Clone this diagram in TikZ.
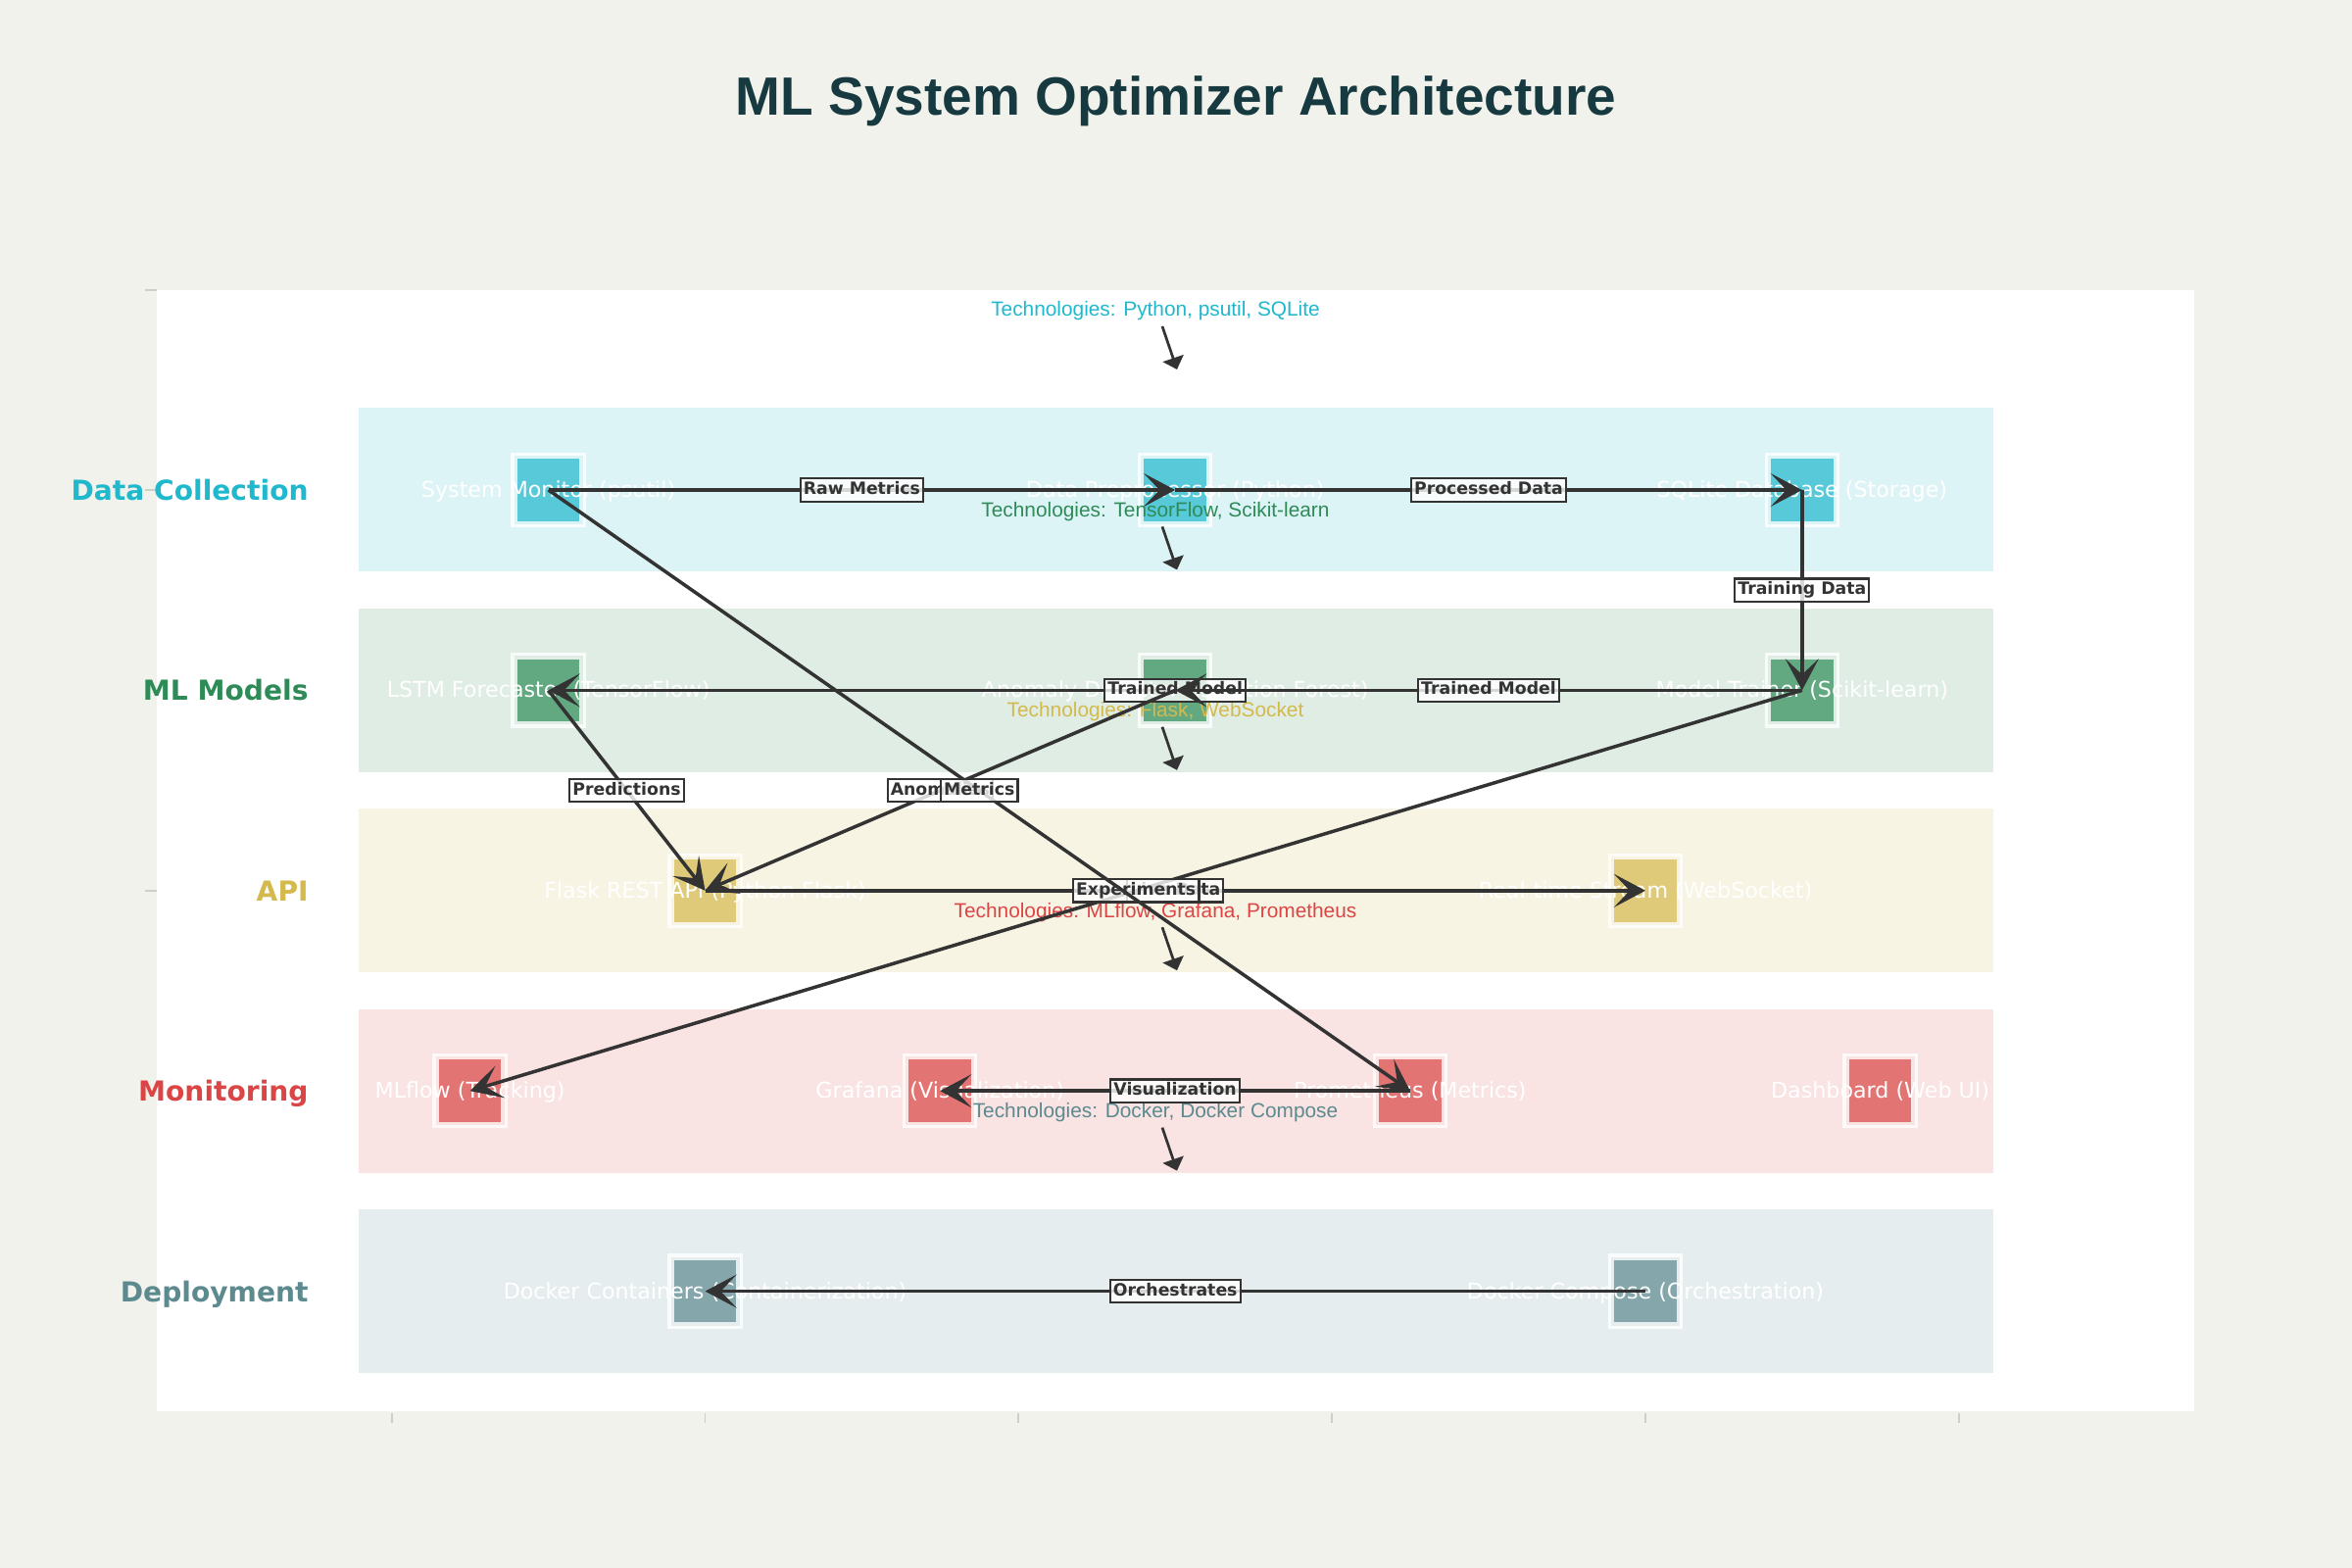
\documentclass[tikz,border=0pt]{standalone}
\usepackage{fontspec}
\setmainfont{DejaVu Sans}
\newfontfamily\arialf{Liberation Sans}
\usetikzlibrary{arrows.meta}
\definecolor{bg}{HTML}{F2F2EC}
\definecolor{cdata}{HTML}{1FB8CD}
\definecolor{cml}{HTML}{2E8B57}
\definecolor{capi}{HTML}{D4B94C}
\definecolor{cmon}{HTML}{DB4545}
\definecolor{cdep}{HTML}{5C8A8F}
\definecolor{ink}{HTML}{333333}
\definecolor{titlec}{HTML}{173A40}
\definecolor{tickc}{HTML}{CFCFC9}
\tikzset{
  band/.style={fill=#1, fill opacity=0.15, draw=none},
  comp/.style={rectangle, draw=white, draw opacity=0.8, line width=3.1pt, fill=#1, fill opacity=0.7, minimum size=33.6pt, inner sep=0pt},
  ctext/.style={text=white, font=\fontsize{10.65}{12}\selectfont, anchor=base, yshift=-3.6pt, inner sep=0pt},
  rowlbl/.style={text=#1, font=\bfseries\fontsize{13.5}{16}\selectfont, anchor=base east, inner sep=0pt},
  tech/.style={text=#1, font=\arialf\fontsize{10}{12}\selectfont, anchor=base, inner sep=0pt},
  techarrow/.style={draw=ink, line width=1.3pt, -{Triangle[length=5.8pt, width=10.6pt]}},
  edge/.style={draw=ink, line width=1.68pt, -{Stealth[length=15.4pt, width=16.3pt, inset=7.7pt]}},
  lbl/.style={font=\bfseries\fontsize{8.3}{10}\selectfont, text=ink, fill=white, fill opacity=0.8, text opacity=1, draw=ink, draw opacity=1, line width=1.05pt, inner xsep=1.5pt, inner ysep=1.6pt, text height=6.2pt, text depth=1.9pt},
  tick/.style={draw=tickc, line width=0.7pt}
}
\begin{document}
\begin{tikzpicture}[x=0.48pt,y=-0.48pt]
\useasboundingbox (0,0) rectangle (2400,1600);
\fill[bg] (0,0) rectangle (2400,1600);
\fill[white] (160,296) rectangle (2239,1440);
% axis ticks
\foreach \tx in {400,719.5,1039,1359,1679,1999} {\draw[tick] (\tx,1442) -- (\tx,1452);}
\foreach \ty in {296,500,908.8} {\draw[tick] (148,\ty) -- (160,\ty);}
% title
\node[font=\arialf\bfseries\fontsize{26.4}{30}\selectfont, text=titlec, anchor=base, inner sep=0pt] (title) at (1200,118) {ML System Optimizer Architecture};
% bands
\fill[band=cdata] (366,416.5) rectangle (2034,583.5);
\fill[band=cml]   (366,620.9) rectangle (2034,787.9);
\fill[band=capi]  (366,825.3) rectangle (2034,992.3);
\fill[band=cmon]  (366,1029.7) rectangle (2034,1196.7);
\fill[band=cdep]  (366,1234.1) rectangle (2034,1401.1);
% row labels
\node[rowlbl=cdata] (r1) at (315,510.5) {Data Collection};
\node[rowlbl=cml]   (r2) at (315,714.9) {ML Models};
\node[rowlbl=capi]  (r3) at (315,919.3) {API};
\node[rowlbl=cmon]  (r4) at (315,1123.7) {Monitoring};
\node[rowlbl=cdep]  (r5) at (315,1328.1) {Deployment};
% components
\node[comp=cdata] (sm) at (559.6,500) {};
\node[comp=cdata] (pp) at (1199.2,500) {};
\node[comp=cdata] (db) at (1838.8,500) {};
\node[comp=cml] (lstm) at (559.6,704.4) {};
\node[comp=cml] (ad) at (1199.2,704.4) {};
\node[comp=cml] (mt) at (1838.8,704.4) {};
\node[comp=capi] (fl) at (719.5,908.8) {};
\node[comp=capi] (rt) at (1679,908.8) {};
\node[comp=cmon] (mf) at (479.6,1113.2) {};
\node[comp=cmon] (gf) at (959.2,1113.2) {};
\node[comp=cmon] (pr) at (1438.9,1113.2) {};
\node[comp=cmon] (dsh) at (1918.6,1113.2) {};
\node[comp=cdep] (dc) at (719.5,1317.6) {};
\node[comp=cdep] (dk) at (1679,1317.6) {};
\node[ctext] (smt) at (sm) {System Monitor (psutil)};
\node[ctext] (ppt) at (pp) {Data Preprocessor (Python)};
\node[ctext] (dbt) at (db) {SQLite Database (Storage)};
\node[ctext] (lstmt) at (lstm) {LSTM Forecaster (TensorFlow)};
\node[ctext] (adt) at (ad) {Anomaly Detector (Isolation Forest)};
\node[ctext] (mtt) at (mt) {Model Trainer (Scikit-learn)};
\node[ctext] (flt) at (fl) {Flask REST API (Python Flask)};
\node[ctext] (rtt) at (rt) {Real-time Stream (WebSocket)};
\node[ctext] (mft) at (mf) {MLflow (Tracking)};
\node[ctext] (gft) at (gf) {Grafana (Visualization)};
\node[ctext] (prt) at (pr) {Prometheus (Metrics)};
\node[ctext] (dsht) at (dsh) {Dashboard (Web UI)};
\node[ctext] (dct) at (dc) {Docker Containers (Containerization)};
\node[ctext] (dkt) at (dk) {Docker Compose (Orchestration)};
% technology notes
\node[tech=cdata] (t1) at (1179,323) {Technologies: Python, psutil, SQLite};
\node[tech=cml]   (t2) at (1179,527.4) {Technologies: TensorFlow, Scikit-learn};
\node[tech=capi]  (t3) at (1179,731.8) {Technologies: Flask, WebSocket};
\node[tech=cmon]  (t4) at (1179,936.2) {Technologies: MLflow, Grafana, Prometheus};
\node[tech=cdep]  (t5) at (1179,1140.6) {Technologies: Docker, Docker Compose};
\coordinate (a1s) at (1186,333);    \coordinate (a1e) at (1201,377);
\coordinate (a2s) at (1186,537.4);  \coordinate (a2e) at (1201,581.4);
\coordinate (a3s) at (1186,741.8);  \coordinate (a3e) at (1201,785.8);
\coordinate (a4s) at (1186,946.2);  \coordinate (a4e) at (1201,990.2);
\coordinate (a5s) at (1186,1150.6); \coordinate (a5e) at (1201,1194.6);
\draw[techarrow] (a1s) -- (a1e);
\draw[techarrow] (a2s) -- (a2e);
\draw[techarrow] (a3s) -- (a3e);
\draw[techarrow] (a4s) -- (a4e);
\draw[techarrow] (a5s) -- (a5e);
% connections
\draw[edge] (sm.center) -- node[lbl] (e1) {Raw Metrics} (pp.center);
\draw[edge] (pp.center) -- node[lbl] (e2) {Processed Data} (db.center);
\draw[edge] (db.center) -- node[lbl] (e3) {Training Data} (mt.center);
\draw[edge] (mt.center) -- node[lbl] (e4) {Trained Model} (lstm.center);
\draw[edge] (mt.center) -- node[lbl] (e5) {Trained Model} (ad.center);
\draw[edge] (lstm.center) -- node[lbl] (e6) {Predictions} (fl.center);
\draw[edge] (ad.center) -- node[lbl] (e7) {Anomalies} (fl.center);
\draw[edge] (fl.center) -- node[lbl] (e8) {Live Data} (rt.center);
\draw[edge] (mt.center) -- node[lbl] (e9) {Experiments} (mf.center);
\draw[edge] (sm.center) -- node[lbl] (e10) {Metrics} (pr.center);
\draw[edge] (pr.center) -- node[lbl] (e11) {Visualization} (gf.center);
\draw[edge] (dk.center) -- node[lbl] (e12) {Orchestrates} (dc.center);
\end{tikzpicture}
\end{document}
